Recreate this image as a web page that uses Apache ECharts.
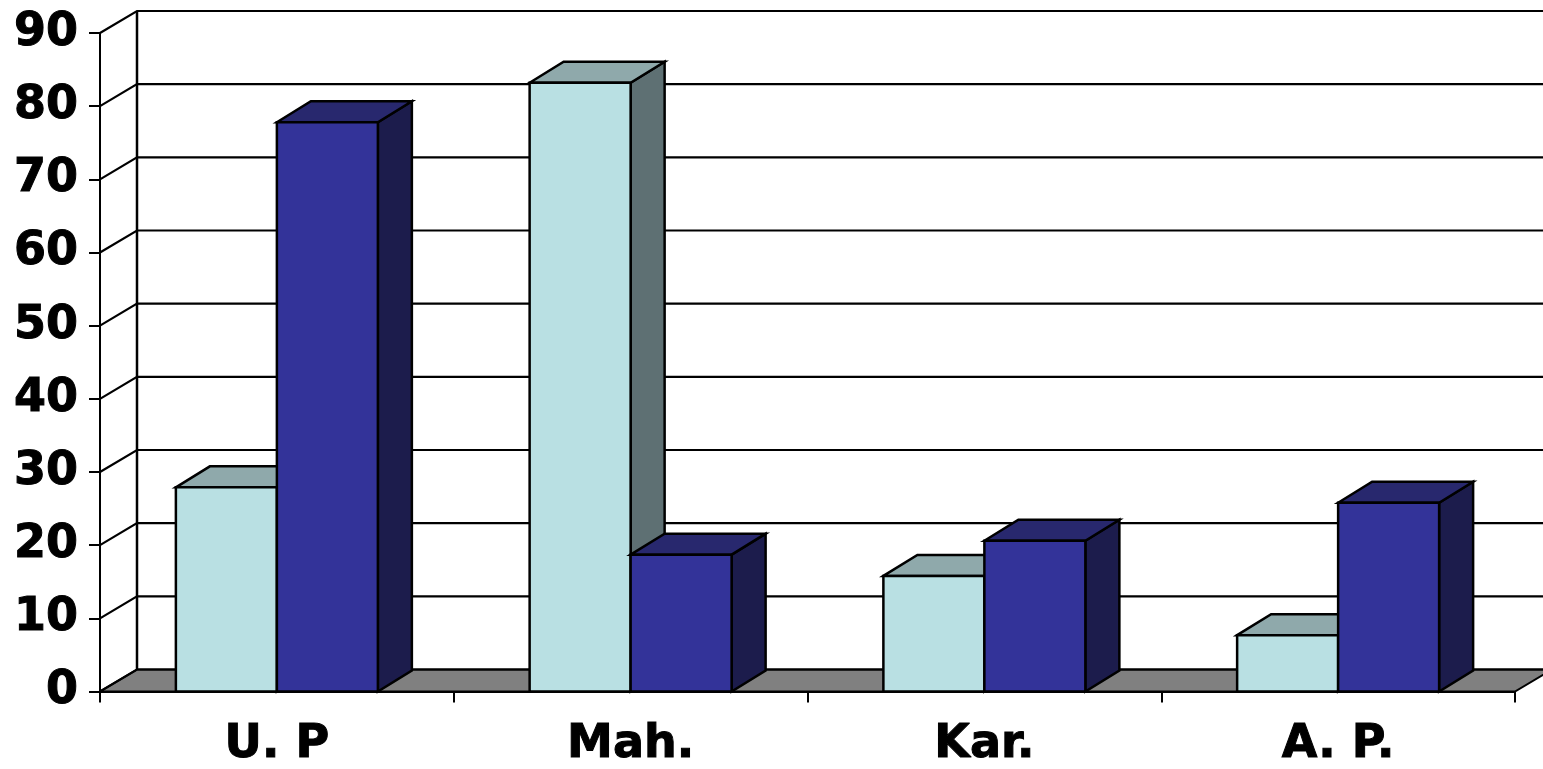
<!DOCTYPE html>
<html>
<head>
<meta charset="utf-8">
<script src="https://cdn.jsdelivr.net/npm/echarts@6/dist/echarts.min.js"></script>
<style>
html,body{margin:0;padding:0;background:#fff;}
#chart{width:1543px;height:769px;}
</style>
</head>
<body>
<div id="chart"></div>
<script>
const categories = ['U. P', 'Mah.', 'Kar.', 'A. P.'];
const seriesLight = [27.9, 83.2, 15.8, 7.7];
const seriesDark = [77.8, 18.7, 20.6, 25.8];
const yTicks = [0, 10, 20, 30, 40, 50, 60, 70, 80, 90];

const WALL_DX = 37, WALL_DY = -22;
const BAR_DX = 34, BAR_DY = -21;
const BAR_FRAC = 0.2855;
const FONT = 'DejaVu Sans';

const chart = echarts.init(document.getElementById('chart'), null, {renderer: 'canvas'});

function floorItem(params, api) {
  const cs = params.coordSys;
  const y0 = api.coord([0, 0])[1];
  const xl = cs.x, xr = cs.x + cs.width;
  return {
    type: 'group',
    children: [
      {type: 'polygon', shape: {points: [[xl, y0], [xr, y0], [xr + WALL_DX, y0 + WALL_DY], [xl + WALL_DX, y0 + WALL_DY]]},
       style: {fill: '#808080', stroke: '#000', lineWidth: 2}},
      {type: 'line', shape: {x1: xl + WALL_DX, y1: y0 + WALL_DY, x2: xl + WALL_DX, y2: api.coord([0, 90])[1] + WALL_DY},
       style: {stroke: '#000', lineWidth: 2.5}}
    ]
  };
}

function wallItem(params, api) {
  const cs = params.coordSys;
  const v = api.value(1);
  const y = api.coord([0, v])[1];
  const xl = cs.x, xr = cs.x + cs.width;
  return {
    type: 'polyline',
    shape: {points: [[xl, y], [xl + WALL_DX, y + WALL_DY], [xr + WALL_DX, y + WALL_DY]]},
    style: {stroke: '#000', lineWidth: 2.2, fill: null}
  };
}

function barRenderer(side, front, top, sideCol) {
  return function (params, api) {
    const i = api.value(0), v = api.value(1);
    const c = api.coord([i, v]);
    const b = api.coord([i, 0]);
    const w = api.size([1, 0])[0] * BAR_FRAC;
    const x0 = side === 'left' ? c[0] - w : c[0];
    const x1 = x0 + w;
    const yt = c[1], yb = b[1];
    const st = {stroke: '#000', lineWidth: 2.5, lineJoin: 'miter'};
    return {
      type: 'group',
      children: [
        {type: 'polygon', shape: {points: [[x1, yt], [x1 + BAR_DX, yt + BAR_DY], [x1 + BAR_DX, yb + BAR_DY], [x1, yb]]},
         style: Object.assign({fill: sideCol}, st)},
        {type: 'polygon', shape: {points: [[x0, yt], [x0 + BAR_DX, yt + BAR_DY], [x1 + BAR_DX, yt + BAR_DY], [x1, yt]]},
         style: Object.assign({fill: top}, st)},
        {type: 'rect', shape: {x: x0, y: yt, width: w, height: yb - yt},
         style: Object.assign({fill: front}, st)}
      ]
    };
  };
}

const labelStyle = {color: '#000', fontSize: 46, fontWeight: 'bold', fontFamily: FONT,
  textBorderColor: '#000', textBorderWidth: 1};

const option = {
  backgroundColor: '#ffffff',
  animation: false,
  grid: {left: 100, right: 28, top: 33, bottom: 77, containLabel: false},
  xAxis: {
    type: 'category',
    data: categories,
    boundaryGap: true,
    axisLine: {show: true, lineStyle: {color: '#000', width: 2}},
    axisTick: {show: true, length: 11, lineStyle: {color: '#000', width: 2}},
    axisLabel: Object.assign({margin: 31}, labelStyle),
    splitLine: {show: false}
  },
  yAxis: {
    type: 'value',
    min: 0, max: 90, interval: 10,
    axisLine: {show: true, lineStyle: {color: '#000', width: 2}},
    axisTick: {show: true, length: 11, lineStyle: {color: '#000', width: 2}},
    axisLabel: Object.assign({margin: 22}, labelStyle),
    splitLine: {show: false}
  },
  series: [
    {type: 'custom', name: 'floor', z: 1, silent: true, renderItem: floorItem, data: [[0, 0]]},
    {type: 'custom', name: 'wall', z: 1, silent: true, renderItem: wallItem,
     data: yTicks.map(v => [0, v])},
    {type: 'custom', name: 'Series 1', z: 3, renderItem: barRenderer('left', '#B9E0E3', '#8FA9AB', '#5E7073'),
     data: seriesLight.map((v, i) => [i, v])},
    {type: 'custom', name: 'Series 2', z: 3, renderItem: barRenderer('right', '#333399', '#28286E', '#1C1C4C'),
     data: seriesDark.map((v, i) => [i, v])}
  ]
};
chart.setOption(option);
</script>
</body>
</html>
